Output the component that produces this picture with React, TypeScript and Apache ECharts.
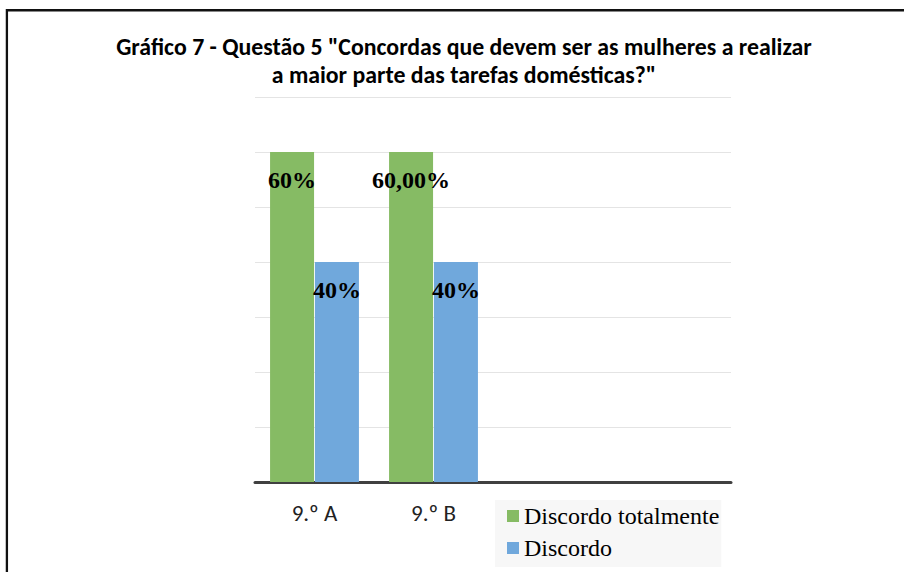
import React, { useEffect, useRef } from "react";
import * as echarts from "echarts";

const titleText =
  'Gráfico 7 - Questão 5 "Concordas que devem ser as mulheres a realizar\na maior parte das tarefas domésticas?"';
const categories = ["9.º A", "9.º B", "", ""];
const seriesNames = ["Discordo totalmente", "Discordo"];
const discordoTotalmente = [60, 60];
const discordo = [40, 40];
const discordoTotalmenteLabels = ["60%", "60,00%"];
const discordoLabels = ["40%", "40%"];
const yMin = 0;
const yMax = 70;
const yInterval = 10;

const GREEN = "#86bb64";
const BLUE = "#70a8dc";

export default function App() {
  const ref = useRef<HTMLDivElement>(null);
  useEffect(() => {
    if (!ref.current) return;
    const chart = echarts.init(ref.current, undefined, { renderer: "svg" });
    const labelStyle = {
      show: true,
      position: ["50%", 28],
      align: "center",
      verticalAlign: "middle",
      fontFamily: "'Liberation Serif', 'Times New Roman', serif",
      fontWeight: "bold",
      fontSize: 24,
      color: "#000",
    };
    chart.setOption({
      animation: false,
      backgroundColor: "#fff",
      title: {
        text: titleText,
        left: 464,
        top: 32,
        textAlign: "center",
        padding: 0,
        textStyle: {
          fontFamily: "Carlito, 'Open Sans', sans-serif",
          fontWeight: "bold",
          fontSize: 23.8,
          lineHeight: 28,
          color: "#000",
        },
      },
      graphic: [
        {
          type: "line",
          shape: { x1: 7, y1: 10.3, x2: 904, y2: 10.3 },
          style: { stroke: "#111", lineWidth: 2.5 },
          silent: true,
        },
        {
          type: "line",
          shape: { x1: 6.9, y1: 9, x2: 6.9, y2: 572 },
          style: { stroke: "#111", lineWidth: 2.3 },
          silent: true,
        },
      ],
      legend: {
        orient: "vertical",
        left: 495,
        top: 500,
        padding: [4, 2, 7, 12],
        backgroundColor: "#f7f7f7",
        itemWidth: 12,
        itemHeight: 12,
        itemGap: 8,
        icon: "rect",
        data: seriesNames,
        textStyle: {
          fontFamily: "'Liberation Serif', 'Times New Roman', serif",
          fontSize: 24,
          lineHeight: 24,
          color: "#000",
        },
      },
      grid: { left: 255, right: 173, top: 97, bottom: 90, containLabel: false },
      xAxis: {
        type: "category",
        data: categories,
        axisLine: { show: true, lineStyle: { color: "#404040", width: 3 } },
        axisTick: { show: false },
        axisLabel: {
          margin: 19,
          fontFamily: "Carlito, 'Open Sans', sans-serif",
          fontSize: 23,
          color: "#222",
        },
        splitLine: { show: false },
      },
      yAxis: {
        type: "value",
        min: yMin,
        max: yMax,
        interval: yInterval,
        axisLine: { show: false },
        axisTick: { show: false },
        axisLabel: { show: false },
        splitLine: { show: true, lineStyle: { color: "#e4e4e4", width: 1 } },
      },
      series: [
        {
          name: seriesNames[0],
          type: "bar",
          data: discordoTotalmente,
          barWidth: 44,
          barGap: "2%",
          itemStyle: { color: GREEN },
          label: {
            ...labelStyle,
            formatter: (p: any) => discordoTotalmenteLabels[p.dataIndex],
          },
        },
        {
          name: seriesNames[1],
          type: "bar",
          data: discordo,
          barWidth: 44,
          barGap: "2%",
          itemStyle: { color: BLUE },
          label: {
            ...labelStyle,
            formatter: (p: any) => discordoLabels[p.dataIndex],
          },
        },
      ],
    });
    return () => chart.dispose();
  }, []);
  return (
    <div
      ref={ref}
      style={{ position: "fixed", left: 0, top: 0, width: 904, height: 572 }}
    />
  );
}
